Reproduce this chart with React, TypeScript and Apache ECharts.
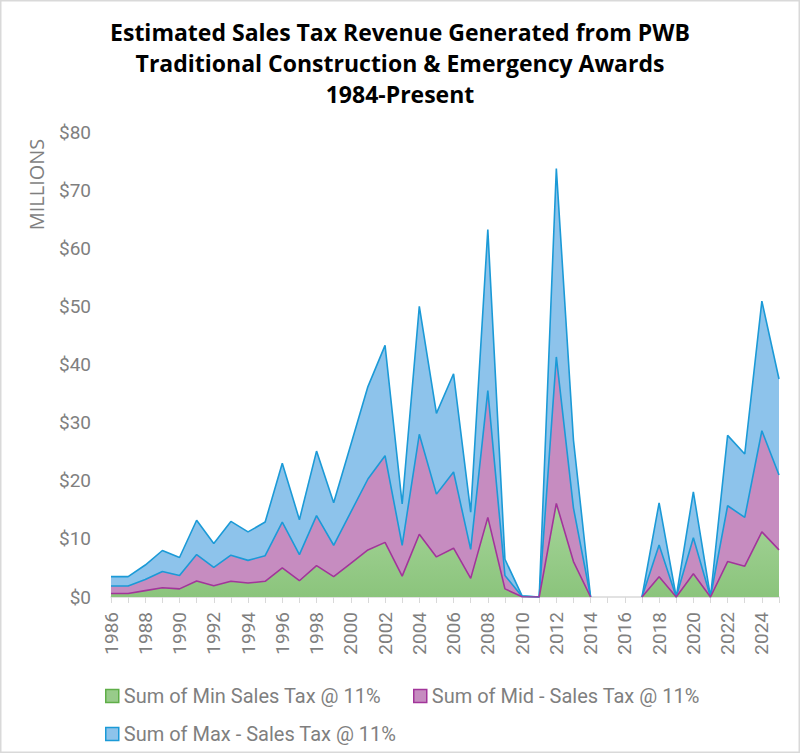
import React, { useEffect, useRef } from "react";
import * as echarts from "echarts";

const years = [
  "1986", "1987", "1988", "1989", "1990", "1991", "1992", "1993", "1994", "1995",
  "1996", "1997", "1998", "1999", "2000", "2001", "2002", "2003", "2004", "2005",
  "2006", "2007", "2008", "2009", "2010", "2011", "2012", "2013", "2014", "2015",
  "2016", "2017", "2018", "2019", "2020", "2021", "2022", "2023", "2024", "2025",
];

const minSales = [
  0.6, 0.6, 1.1, 1.6, 1.4, 2.75, 1.95, 2.7, 2.4, 2.7,
  5.0, 2.8, 5.4, 3.5, 5.8, 8.1, 9.4, 3.6, 10.8, 6.9,
  8.4, 3.2, 13.7, 1.4, 0.05, 0, 16.1, 6.1, 0, null,
  null, 0, 3.5, 0, 4.0, 0, 6.1, 5.3, 11.2, 8.1,
];

const midSales = [
  1.9, 1.9, 3.0, 4.4, 3.7, 7.3, 5.1, 7.2, 6.3, 7.1,
  12.9, 7.3, 14.0, 8.9, 14.6, 20.3, 24.3, 8.9, 28.0, 17.7,
  21.5, 8.2, 35.5, 3.7, 0.1, 0, 41.3, 15.3, 0, null,
  null, 0, 8.95, 0, 10.2, 0, 15.7, 13.7, 28.6, 21.0,
];

const maxSales = [
  3.5, 3.5, 5.5, 8.0, 6.8, 13.2, 9.2, 13.0, 11.2, 12.9,
  23.0, 13.3, 25.1, 16.2, 26.2, 36.2, 43.3, 16.0, 50.0, 31.6,
  38.4, 14.6, 63.2, 6.5, 0.2, 0, 73.7, 27.0, 0, null,
  null, 0, 16.2, 0, 18.1, 0, 27.8, 24.6, 50.9, 37.5,
];

const seriesNames = [
  "Sum of Min Sales Tax @ 11%",
  "Sum of Mid - Sales Tax @ 11%",
  "Sum of Max - Sales Tax @ 11%",
];

const titleLines = [
  "Estimated Sales Tax Revenue Generated from PWB",
  "Traditional Construction & Emergency Awards",
  "1984-Present",
];

const FONT = "Roboto, 'Noto Sans', sans-serif";
const WIDE = "'Open Sans', Roboto, sans-serif";
const GRAY = "#7f7f7f";

export default function App() {
  const ref = useRef<HTMLDivElement>(null);

  useEffect(() => {
    if (!ref.current) return;
    const chart = echarts.init(ref.current, null, { renderer: "svg" });

    const legendText = { fontSize: 20, color: GRAY, fontFamily: FONT };

    const option: any = {
      animation: false,
      backgroundColor: "#ffffff",
      textStyle: { fontFamily: FONT },
      title: {
        text: titleLines.join("\n"),
        left: "center",
        top: 11,
        textStyle: {
          fontSize: 23,
          fontWeight: "bold",
          color: "#000000",
          lineHeight: 31,
          fontFamily: WIDE,
        },
      },
      graphic: [
        {
          type: "rect",
          silent: true,
          shape: { x: 0.5, y: 0.5, width: 799, height: 752 },
          style: { fill: "none", stroke: "#d9d9d9", lineWidth: 2 },
        },
        {
          type: "text",
          x: 36.5,
          y: 184.5,
          rotation: Math.PI / 2,
          style: {
            text: "MILLIONS",
            fontSize: 20,
            fill: GRAY,
            fontFamily: WIDE,
            align: "center",
            verticalAlign: "middle",
          },
        },
      ],
      legend: [
        {
          left: 100,
          top: 681,
          itemWidth: 13,
          itemHeight: 13,
          itemGap: 5,
          textStyle: legendText,
          data: [
            {
              name: seriesNames[0],
              icon: "rect",
              itemStyle: { color: "#98cb8a", borderColor: "#5fae48", borderWidth: 1.5 },
            },
          ],
        },
        {
          left: 408,
          top: 681,
          itemWidth: 13,
          itemHeight: 13,
          textStyle: legendText,
          data: [
            {
              name: seriesNames[1],
              icon: "rect",
              itemStyle: { color: "#c68cc0", borderColor: "#a2359a", borderWidth: 1.5 },
            },
          ],
        },
        {
          left: 100,
          top: 719,
          itemWidth: 13,
          itemHeight: 13,
          textStyle: legendText,
          data: [
            {
              name: seriesNames[2],
              icon: "rect",
              itemStyle: { color: "#8dc3eb", borderColor: "#1b9ad7", borderWidth: 1.5 },
            },
          ],
        },
      ],
      grid: {
        left: 111,
        right: 21,
        top: 132,
        bottom: 156,
        containLabel: false,
        outerBoundsMode: "none",
      },
      xAxis: {
        type: "category",
        data: years,
        boundaryGap: false,
        axisLine: { lineStyle: { color: "#d9d9d9", width: 1.5 } },
        axisTick: { show: true, interval: 0, length: 6, lineStyle: { color: "#d9d9d9" } },
        axisLabel: {
          rotate: 90,
          interval: 1,
          fontSize: 19,
          color: GRAY,
          margin: 15,
          fontFamily: FONT,
        },
        splitLine: { show: false },
      },
      yAxis: {
        type: "value",
        min: 0,
        max: 80,
        interval: 10,
        axisLine: { show: false },
        axisTick: { show: false },
        splitLine: { show: false },
        axisLabel: {
          formatter: (v: number) => "$" + v,
          fontSize: 19,
          color: GRAY,
          margin: 20,
          fontFamily: FONT,
        },
      },
      series: [
        {
          name: seriesNames[2],
          type: "line",
          data: maxSales,
          symbol: "none",
          connectNulls: false,
          lineStyle: { color: "#1b9ad7", width: 1.6 },
          itemStyle: { color: "#8dc3eb" },
          areaStyle: { color: "#8dc3eb", opacity: 1 },
          z: 2,
        },
        {
          name: seriesNames[1],
          type: "line",
          data: midSales,
          symbol: "none",
          connectNulls: false,
          lineStyle: { color: "#1b9ad7", width: 1.6 },
          itemStyle: { color: "#c68cc0" },
          areaStyle: { color: "#c68cc0", opacity: 1 },
          z: 3,
        },
        {
          name: seriesNames[0],
          type: "line",
          data: minSales,
          symbol: "none",
          connectNulls: false,
          lineStyle: { color: "#a2359a", width: 1.6 },
          itemStyle: { color: "#98cb8a" },
          areaStyle: {
            opacity: 1,
            color: new echarts.graphic.LinearGradient(0, 0, 0, 1, [
              { offset: 0, color: "#a6d59a" },
              { offset: 1, color: "#8bc47c" },
            ]),
          },
          z: 4,
        },
      ],
    };

    chart.setOption(option);
    return () => chart.dispose();
  }, []);

  return (
    <div
      ref={ref}
      style={{ position: "fixed", left: 0, top: 0, width: 800, height: 753 }}
    />
  );
}
